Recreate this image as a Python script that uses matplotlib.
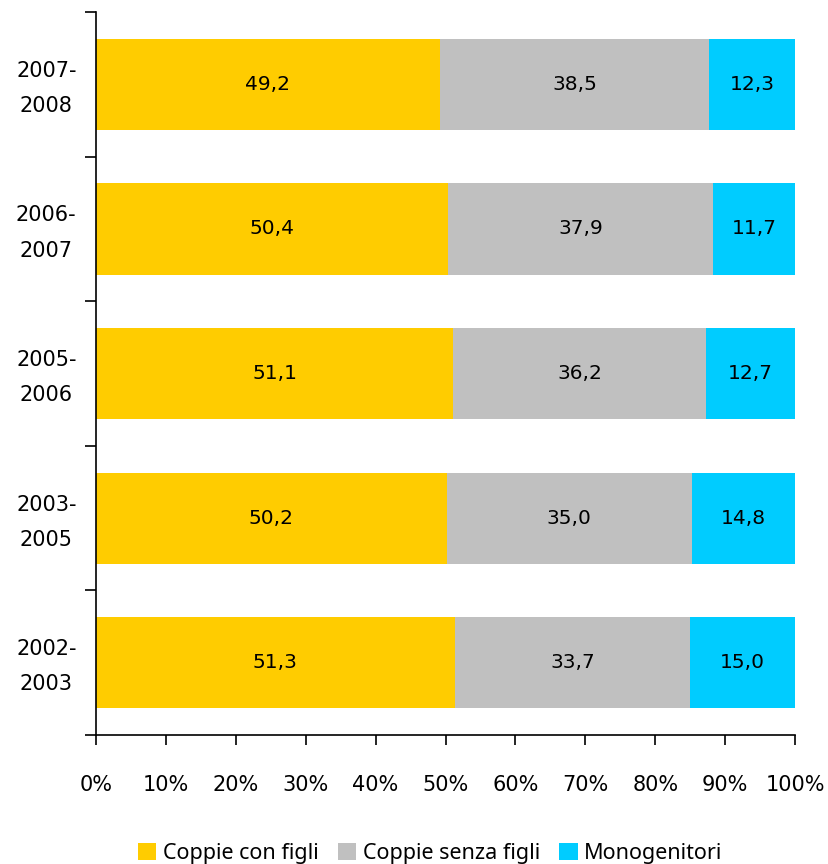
import matplotlib
matplotlib.use("Agg")
import matplotlib.pyplot as plt
import matplotlib.transforms as mtransforms
import numpy as np

# dati (percentuali)
periods = ["2002-\n2003", "2003-\n2005", "2005-\n2006", "2006-\n2007", "2007-\n2008"]
coppie_con_figli = [51.3, 50.2, 51.1, 50.4, 49.2]
coppie_senza_figli = [33.7, 35.0, 36.2, 37.9, 38.5]
monogenitori = [15.0, 14.8, 12.7, 11.7, 12.3]
series_names = ["Coppie con figli", "Coppie senza figli", "Monogenitori"]
colors = ["#FFCC00", "#C0C0C0", "#00CCFF"]

fig = plt.figure(figsize=(8.29, 8.64), dpi=100)
ax = fig.add_axes([0.1158, 0.1493, 0.959 - 0.1158, 0.986 - 0.1493])

y = np.arange(len(periods))
left = np.zeros(len(periods))
for vals, name, col in zip([coppie_con_figli, coppie_senza_figli, monogenitori], series_names, colors):
    bars = ax.barh(y, vals, left=left, height=0.63, color=col, label=name)
    for b, v in zip(bars, vals):
        ax.text(b.get_x() + b.get_width() / 2, b.get_y() + b.get_height() / 2,
                f"{v:.1f}".replace(".", ","), ha="center", va="center",
                fontsize=14.5, color="black")
    left += np.array(vals)

ax.set_xlim(0, 100)
ax.set_ylim(-0.5, len(periods) - 0.5)

# asse x
ax.set_xticks(np.arange(0, 101, 10))
ax.set_xticklabels([f"{t}%" for t in range(0, 101, 10)], fontsize=15)
ax.tick_params(axis="x", direction="out", length=7, width=1.2, pad=22)

# asse y: etichette al centro, tacche ai bordi
ax.set_yticks(y)
ax.set_yticklabels(periods, fontsize=15, linespacing=1.95, multialignment="center", va="center")
ax.tick_params(axis="y", which="major", length=0, pad=14)
ax.set_yticks(np.arange(-0.5, len(periods), 1), minor=True)
ax.tick_params(axis="y", which="minor", direction="out", length=8, width=1.2)

# piccolo spostamento verso il basso delle etichette y
offset = mtransforms.ScaledTranslation(0, -4 / 100, fig.dpi_scale_trans)
for lab in ax.get_yticklabels():
    lab.set_transform(lab.get_transform() + offset)

for s in ["top", "right"]:
    ax.spines[s].set_visible(False)
for s in ["left", "bottom"]:
    ax.spines[s].set_linewidth(1.2)

fig.legend(loc="lower center", bbox_to_anchor=(0.519, -0.022), ncol=3, frameon=False,
           prop={"family": "Noto Sans", "size": 15.5}, handlelength=0.85, handleheight=0.85,
           handletextpad=0.3, columnspacing=0.9)

fig.savefig("out.png", dpi=100)
